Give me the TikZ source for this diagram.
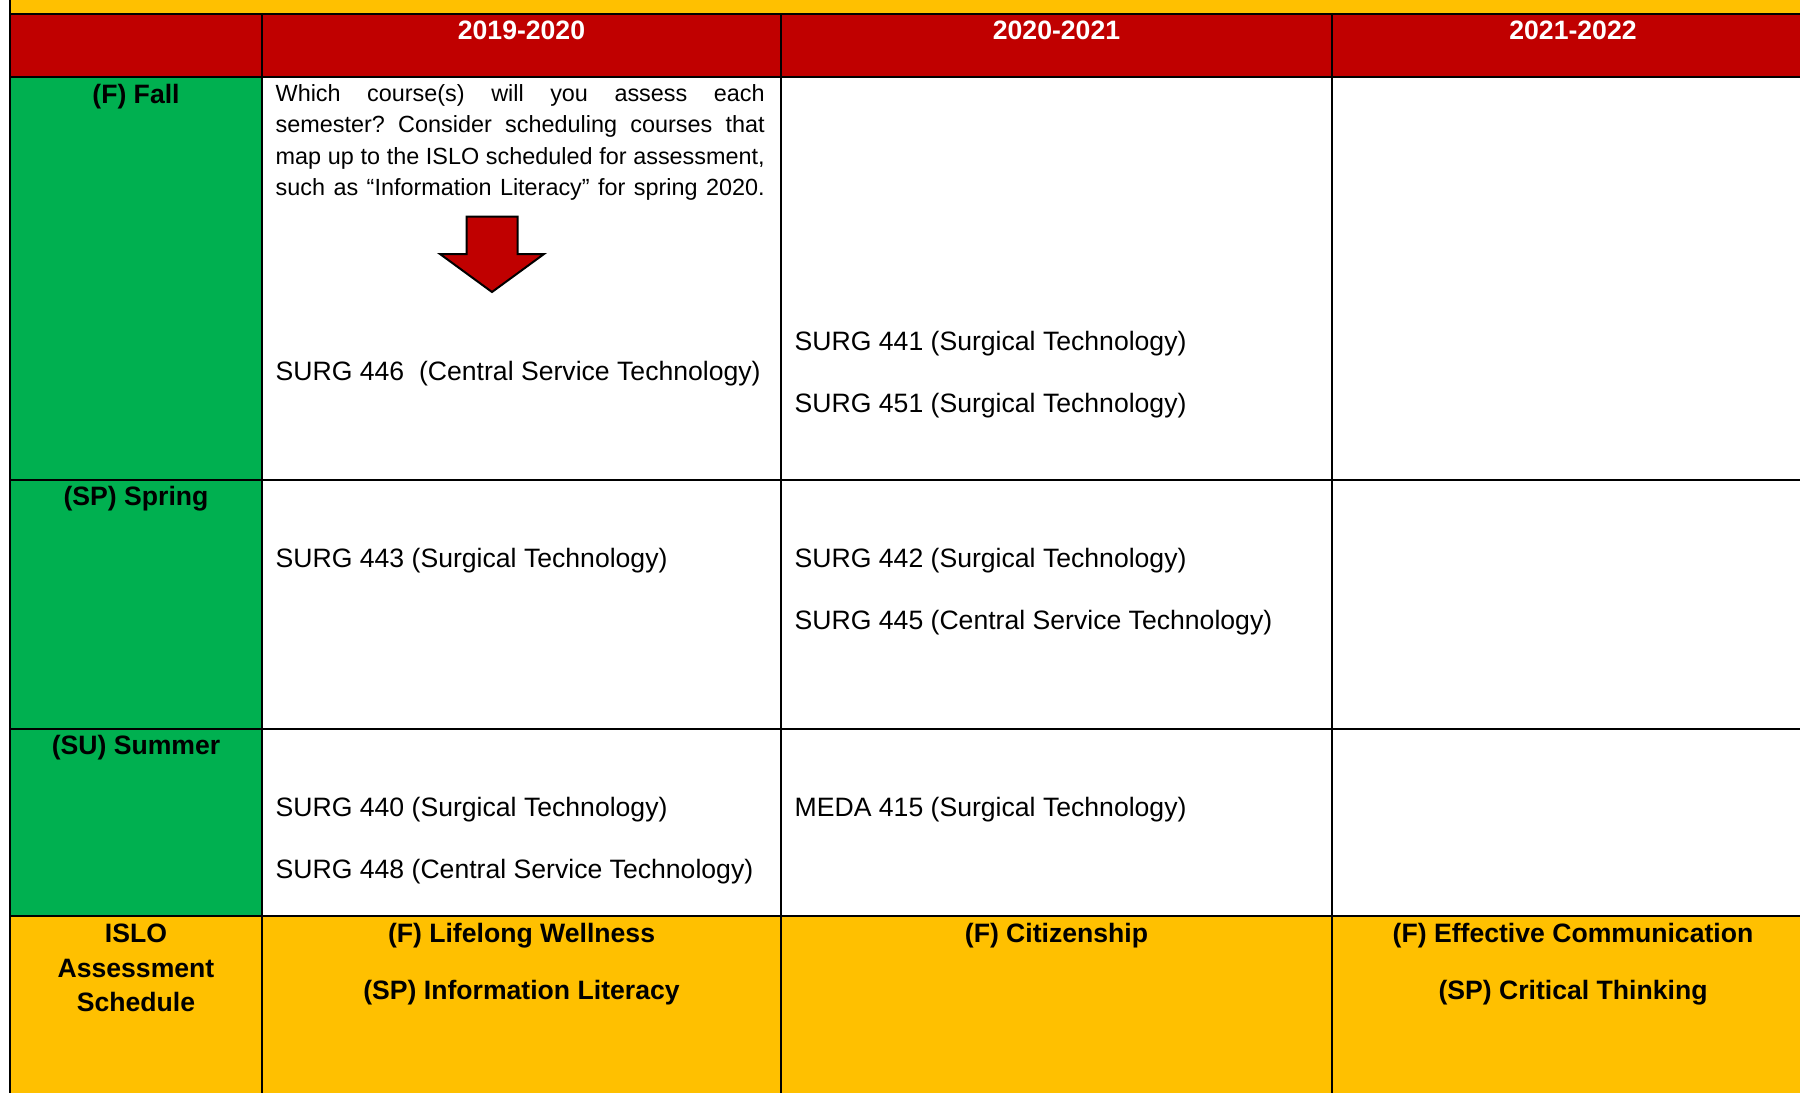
\documentclass[tikz,border=0pt]{standalone}
\usepackage{fontspec}
\setmainfont{Liberation Sans}
\frenchspacing
\definecolor{hdrred}{HTML}{C00000}
\definecolor{rowgreen}{HTML}{00B050}
\definecolor{islo}{HTML}{FFC000}
\newcommand{\jline}[1]{\leavevmode\hbox to 489pt{#1}}
\begin{document}
\begin{tikzpicture}[x=1pt,y=-1pt,
  txt/.style={inner sep=0pt, font=\fontsize{26.6}{31.6}\selectfont, anchor=base west},
  ctr/.style={inner sep=0pt, font=\fontsize{26.6}{31.6}\selectfont\bfseries, anchor=base},
  hdr/.style={ctr, text=white},
  gridline/.style={line width=2.6pt, black},
  bigarrow/.style={fill=hdrred, draw=black, line width=2pt, line join=miter}]
\useasboundingbox (0,0) rectangle (1800,1093);
% fills
\fill[white] (0,0) rectangle (1800,1093);
\fill[islo] (10,0) rectangle (1800,14);
\fill[hdrred] (10,14) rectangle (1800,77);
\fill[rowgreen] (10,77) rectangle (262,916);
\fill[islo] (10,916) rectangle (1800,1093);
% grid
\draw[gridline] (10,0) -- (10,1093);
\draw[gridline] (262,14) -- (262,1093);
\draw[gridline] (781,14) -- (781,1093);
\draw[gridline] (1332,14) -- (1332,1093);
\foreach \yy in {14,77,480,729,916} \draw[gridline] (10,\yy) -- (1800,\yy);
% header
\node[hdr] (h1) at (521.5,39.5) {2019-2020};
\node[hdr] (h2) at (1056.5,39.5) {2020-2021};
\node[hdr] (h3) at (1573,39.5) {2021-2022};
% row labels
\node[ctr] (rF) at (136,103.5) {(F) Fall};
\node[ctr] (rSP) at (136,505.5) {(SP) Spring};
\node[ctr] (rSU) at (136,754.5) {(SU) Summer};
\node[ctr, text width=240pt, align=center, font=\fontsize{26.6}{34.5}\selectfont\bfseries] (rI) at (136,942.5) {ISLO\\Assessment\\Schedule};
% fall
\node[txt, text width=500pt, align=left, font=\fontsize{23.4}{31.6}\selectfont] (q) at (275.5,101) {\spaceskip=0.278em plus 1fil minus 0.15em
\jline{Which course(s) will you assess each}\\\jline{semester? Consider scheduling courses that}\\\jline{map up to the ISLO scheduled for assessment,}\\\jline{such as “Information Literacy” for spring 2020.}};
\draw[bigarrow] (466.5,216.5) -- (517.5,216.5) -- (517.5,254) -- (544,254) -- (492,292) -- (440,254) -- (466.5,254) -- cycle;
\node[txt] (c446) at (275.5,380.5) {SURG 446\ \ (Central Service Technology)};
\node[txt] (c441) at (794.5,350.5) {SURG 441 (Surgical Technology)};
\node[txt] (c451) at (794.5,412.5) {SURG 451 (Surgical Technology)};
% spring
\node[txt] (c443) at (275.5,567.5) {SURG 443 (Surgical Technology)};
\node[txt] (c442) at (794.5,567.5) {SURG 442 (Surgical Technology)};
\node[txt] (c445) at (794.5,629.5) {SURG 445 (Central Service Technology)};
% summer
\node[txt] (c440) at (275.5,816.5) {SURG 440 (Surgical Technology)};
\node[txt] (c448) at (275.5,878.5) {SURG 448 (Central Service Technology)};
\node[txt] (m415) at (794.5,816.5) {MEDA 415 (Surgical Technology)};
% ISLO row
\node[ctr] (i1a) at (521.5,942.5) {(F) Lifelong Wellness};
\node[ctr] (i1b) at (521.5,999.5) {(SP) Information Literacy};
\node[ctr] (i2a) at (1056.5,942.5) {(F) Citizenship};
\node[ctr] (i3a) at (1573,942.5) {(F) Effective Communication};
\node[ctr] (i3b) at (1573,999.5) {(SP) Critical Thinking};
\end{tikzpicture}
\end{document}
